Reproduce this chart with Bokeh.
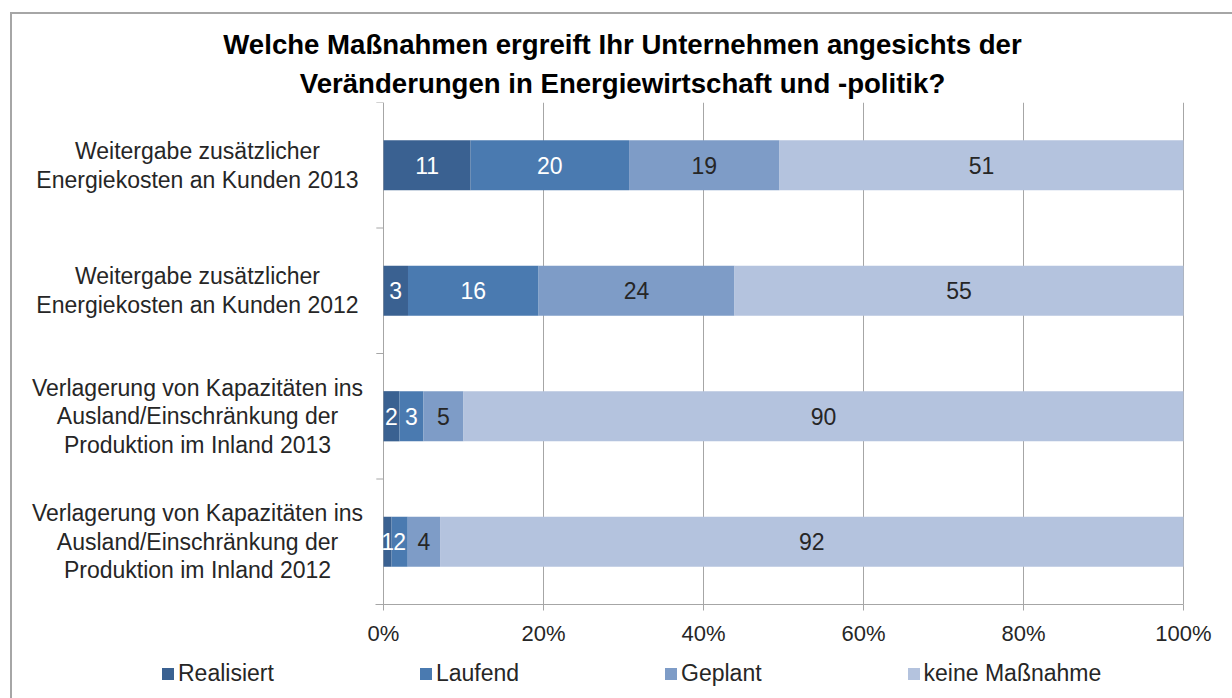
from bokeh.plotting import figure
from bokeh.layouts import column
from bokeh.models import (ColumnDataSource, FactorRange, Range1d, FixedTicker,
                          PrintfTickFormatter, LabelSet, Legend, LegendItem, Title)
from bokeh.core.properties import value
from bokeh.embed import file_html
from bokeh.resources import INLINE

# ---------------- data ----------------
categories = [
    "Weitergabe zusätzlicher\nEnergiekosten an Kunden 2013",
    "Weitergabe zusätzlicher\nEnergiekosten an Kunden 2012",
    "Verlagerung von Kapazitäten ins\nAusland/Einschränkung der\nProduktion im Inland 2013",
    "Verlagerung von Kapazitäten ins\nAusland/Einschränkung der\nProduktion im Inland 2012",
]
series_names = ["Realisiert", "Laufend", "Geplant", "keine Maßnahme"]
realisiert = [11, 3, 2, 1]
laufend = [20, 16, 3, 2]
geplant = [19, 24, 5, 4]
keine = [51, 55, 90, 92]
x_ticks = [0, 20, 40, 60, 80, 100]
title_lines = ["Welche Maßnahmen ergreift Ihr Unternehmen angesichts der",
               "Veränderungen in Energiewirtschaft und -politik?"]

colors = ["#3A6191", "#4A7AB0", "#7E9CC7", "#B4C3DE"]
label_colors = ["white", "white", "#262626", "#262626"]
FONT = "Liberation Sans"
TXT = "#262626"
GRID = "#A6A6A6"

series = [realisiert, laufend, geplant, keine]
keys = ["s0", "s1", "s2", "s3"]
totals = [sum(v[i] for v in series) for i in range(len(categories))]
data = {"cat": categories}
for k, vals in zip(keys, series):
    data[k] = [v / t * 100 for v, t in zip(vals, totals)]
source = ColumnDataSource(data)

# label positions (centre of each stacked segment)
lx, ly, lt, lc = [], [], [], []
for i, cat in enumerate(categories):
    cum = 0.0
    for j, k in enumerate(keys):
        w = data[k][i]
        lx.append(cum + w / 2)
        ly.append(cat)
        lt.append(str(series[j][i]))
        lc.append(label_colors[j])
        cum += w
lab_src = ColumnDataSource(dict(x=lx, y=ly, text=lt, color=lc))

# ---------------- main chart ----------------
# plot frame spans the chart box horizontally; 0..100 % sits at 383..1183 px
p = figure(width=1232, height=648, output_backend="svg", toolbar_location=None,
           x_range=Range1d(-46.375, 106.125), y_range=FactorRange(*reversed(categories)),
           min_border_left=12, min_border_right=0, min_border_top=102,
           min_border_bottom=44)
p.outline_line_color = None
p.background_fill_color = None
p.border_fill_color = None

p.hbar_stack(keys, y="cat", height=0.4, color=colors, line_color=None, source=source)

# category labels
p.text(x=[-23.25] * len(categories), y=categories, text=categories,
       text_align="center", text_baseline="middle", text_font=value(FONT),
       text_font_size="23px", text_color=TXT, text_line_height=1.1)

# category-axis boundary ticks (left of the 0 % line)
bounds_y = [[c, 0.5] for c in categories] + [[categories[-1], -0.5]]
p.segment(x0=[-0.9] * len(bounds_y), x1=[0] * len(bounds_y), y0=bounds_y, y1=bounds_y,
          line_color=GRID, line_width=1)

# axes
p.yaxis.visible = False
p.xaxis.bounds = (-1, 100)
p.xaxis.ticker = FixedTicker(ticks=x_ticks)
p.xaxis.formatter = PrintfTickFormatter(format="%d%%")
p.xaxis.axis_line_color = GRID
p.xaxis.major_tick_line_color = GRID
p.xaxis.major_tick_out = 6
p.xaxis.major_tick_in = 0
p.xaxis.minor_tick_line_color = None
p.xaxis.major_label_text_font = FONT
p.xaxis.major_label_text_font_size = "22px"
p.xaxis.major_label_text_color = TXT
p.xaxis.major_label_standoff = 10

p.xgrid.grid_line_color = GRID
p.xgrid.bounds = (0, 100)
p.ygrid.grid_line_color = None

# data labels
p.add_layout(LabelSet(x="x", y="y", text="text", source=lab_src, text_color="color",
                      text_align="center", text_baseline="middle",
                      text_font=value(FONT), text_font_size="23px"))

# title: two centred lines (the later one added sits higher)
for txt, so in zip(reversed(title_lines), [8, 4]):
    p.add_layout(Title(text=txt, align="center", text_font=FONT,
                       text_font_size="27.6px", text_font_style="bold",
                       text_color="black", standoff=so), "above")

# ---------------- legend strip ----------------
pl = figure(width=1232, height=50, output_backend="svg", toolbar_location=None,
            x_range=Range1d(0, 1), y_range=Range1d(0, 1),
            min_border_left=0, min_border_right=0, min_border_top=0, min_border_bottom=0)
pl.axis.visible = False
pl.grid.visible = False
pl.outline_line_color = None
pl.background_fill_color = None
pl.border_fill_color = None
# legend keys only (placed outside the visible range of this strip)
leg_renderers = [pl.hbar(y=[-5], left=[0], right=[1], height=1, fill_color=c, line_color=None)
                 for c in colors]
legend = Legend(items=[LegendItem(label=n, renderers=[r]) for n, r in zip(series_names, leg_renderers)],
                orientation="horizontal", location=(148, 11),
                glyph_width=15, glyph_height=15, label_standoff=3, spacing=144,
                padding=0, margin=0, border_line_color=None, background_fill_alpha=0,
                label_text_font=FONT, label_text_font_size="23px", label_text_color=TXT)
pl.add_layout(legend, "center")

layout = column(p, pl, spacing=0)
# outer chart border (top + left edges, the rest is cut off by the window)
layout.styles = {"box-shadow": "inset 10px 12px 0 0 #FFFFFF, inset 12px 14px 0 0 #A6A6A6"}

open("out.html", "w").write(file_html(layout, INLINE))
